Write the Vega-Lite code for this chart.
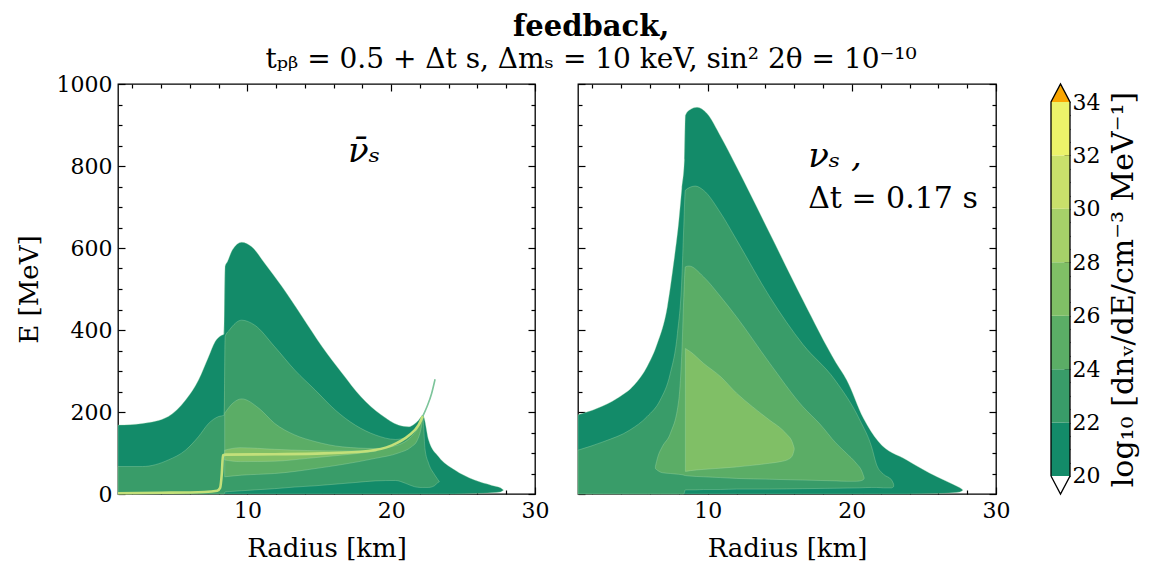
{
  "$schema": "https://vega.github.io/schema/vega-lite/v6.json",
  "padding": {"left": 15, "top": 13, "right": 5, "bottom": 5},
  "title": {
    "text": "feedback,",
    "subtitle": "tₚᵦ = 0.5 + Δt s,  Δmₛ = 10 keV, sin² 2θ = 10⁻¹⁰",
    "font": "DejaVu Serif",
    "fontSize": 29,
    "fontWeight": "bold",
    "color": "black",
    "subtitleFont": "DejaVu Serif",
    "subtitleFontSize": 28,
    "subtitleFontWeight": "normal",
    "subtitleColor": "black",
    "subtitlePadding": 4,
    "anchor": "middle",
    "dx": 14,
    "offset": -2
  },
  "datasets": {
    "left": [
      {"level": 20, "r": 1, "top": 168, "bot": 0}, {"level": 20, "r": 2.7, "top": 172, "bot": 0}, {"level": 20, "r": 4.5, "top": 189, "bot": 0},
      {"level": 20, "r": 5.7, "top": 229, "bot": 0}, {"level": 20, "r": 6.6, "top": 278, "bot": 0}, {"level": 20, "r": 7.3, "top": 335, "bot": 0},
      {"level": 20, "r": 7.76, "top": 372, "bot": 0}, {"level": 20, "r": 8.15, "top": 386, "bot": 0}, {"level": 20, "r": 8.38, "top": 390, "bot": 0},
      {"level": 20, "r": 8.45, "top": 556, "bot": 0}, {"level": 20, "r": 8.6, "top": 566, "bot": 0}, {"level": 20, "r": 8.95, "top": 595, "bot": 0},
      {"level": 20, "r": 9.6, "top": 614, "bot": 0}, {"level": 20, "r": 10.3, "top": 603, "bot": 0}, {"level": 20, "r": 11.2, "top": 563, "bot": 0},
      {"level": 20, "r": 12.4, "top": 506, "bot": 0}, {"level": 20, "r": 13.8, "top": 433, "bot": 0}, {"level": 20, "r": 15.2, "top": 359, "bot": 0},
      {"level": 20, "r": 16.6, "top": 294, "bot": 0}, {"level": 20, "r": 17.9, "top": 237, "bot": 0}, {"level": 20, "r": 19.3, "top": 193, "bot": 0},
      {"level": 20, "r": 20.5, "top": 168, "bot": 0}, {"level": 20, "r": 21.2, "top": 164, "bot": 0}, {"level": 20, "r": 21.9, "top": 180, "bot": 0},
      {"level": 20, "r": 22.2, "top": 192, "bot": 0}, {"level": 20, "r": 22.6, "top": 132, "bot": 0}, {"level": 20, "r": 23.3, "top": 91, "bot": 0},
      {"level": 20, "r": 24.4, "top": 59, "bot": 0}, {"level": 20, "r": 25.8, "top": 34, "bot": 1}, {"level": 20, "r": 27.0, "top": 21, "bot": 3},
      {"level": 20, "r": 27.6, "top": 15, "bot": 5}, {"level": 20, "r": 27.8, "top": 10, "bot": 9},

      {"level": 22, "r": 1, "top": 67, "bot": 0}, {"level": 22, "r": 2.7, "top": 67, "bot": 0}, {"level": 22, "r": 4.5, "top": 83, "bot": 0},
      {"level": 22, "r": 5.7, "top": 107, "bot": 0}, {"level": 22, "r": 6.6, "top": 140, "bot": 0}, {"level": 22, "r": 7.3, "top": 172, "bot": 0},
      {"level": 22, "r": 8.0, "top": 189, "bot": 0}, {"level": 22, "r": 8.38, "top": 192, "bot": 0}, {"level": 22, "r": 8.45, "top": 384, "bot": 5},
      {"level": 22, "r": 8.75, "top": 400, "bot": 6}, {"level": 22, "r": 9.6, "top": 424, "bot": 8}, {"level": 22, "r": 10.5, "top": 412, "bot": 10},
      {"level": 22, "r": 11.9, "top": 359, "bot": 13}, {"level": 22, "r": 13.3, "top": 302, "bot": 17}, {"level": 22, "r": 14.7, "top": 254, "bot": 20},
      {"level": 22, "r": 16.1, "top": 205, "bot": 24}, {"level": 22, "r": 17.5, "top": 168, "bot": 28}, {"level": 22, "r": 18.9, "top": 144, "bot": 32},
      {"level": 22, "r": 20.3, "top": 133, "bot": 33}, {"level": 22, "r": 21.0, "top": 138, "bot": 26}, {"level": 22, "r": 21.6, "top": 155, "bot": 18},
      {"level": 22, "r": 22.0, "top": 172, "bot": 16}, {"level": 22, "r": 22.2, "top": 188, "bot": 16}, {"level": 22, "r": 22.35, "top": 110, "bot": 16},
      {"level": 22, "r": 22.6, "top": 75, "bot": 16}, {"level": 22, "r": 23.0, "top": 48, "bot": 20}, {"level": 22, "r": 23.25, "top": 35, "bot": 28},
      {"level": 22, "r": 23.35, "top": 30, "bot": 30},

      {"level": 24, "r": 8.42, "top": 197, "bot": 42}, {"level": 24, "r": 9.0, "top": 222, "bot": 44}, {"level": 24, "r": 9.6, "top": 232, "bot": 46},
      {"level": 24, "r": 10.8, "top": 209, "bot": 48}, {"level": 24, "r": 11.9, "top": 172, "bot": 50}, {"level": 24, "r": 13.3, "top": 144, "bot": 55},
      {"level": 24, "r": 14.7, "top": 128, "bot": 62}, {"level": 24, "r": 16.6, "top": 115, "bot": 72}, {"level": 24, "r": 18.9, "top": 111, "bot": 87},
      {"level": 24, "r": 20.5, "top": 120, "bot": 100}, {"level": 24, "r": 21.4, "top": 140, "bot": 115}, {"level": 24, "r": 21.8, "top": 158, "bot": 130},
      {"level": 24, "r": 22.1, "top": 180, "bot": 164}, {"level": 24, "r": 22.2, "top": 188, "bot": 185},

      {"level": 26, "r": 8.42, "top": 107, "bot": 83}, {"level": 26, "r": 9.5, "top": 113, "bot": 79}, {"level": 26, "r": 11.9, "top": 109, "bot": 80},
      {"level": 26, "r": 14.2, "top": 106, "bot": 87}, {"level": 26, "r": 16.6, "top": 105, "bot": 95}, {"level": 26, "r": 18.4, "top": 105, "bot": 102},
      {"level": 26, "r": 19.0, "top": 106, "bot": 105}
    ],
    "ridge": [
      {"seg": "main", "r": 1, "E": 2}, {"seg": "main", "r": 4, "E": 3}, {"seg": "main", "r": 7, "E": 5}, {"seg": "main", "r": 7.9, "E": 8},
      {"seg": "main", "r": 8.1, "E": 15}, {"seg": "main", "r": 8.22, "E": 50}, {"seg": "main", "r": 8.3, "E": 94}, {"seg": "main", "r": 8.5, "E": 96},
      {"seg": "main", "r": 11.9, "E": 97}, {"seg": "main", "r": 15.3, "E": 99}, {"seg": "main", "r": 18.4, "E": 105}, {"seg": "main", "r": 20.0, "E": 118},
      {"seg": "main", "r": 21.2, "E": 142}, {"seg": "main", "r": 21.9, "E": 168}, {"seg": "main", "r": 22.2, "E": 190},
      {"seg": "spike", "r": 22.2, "E": 190}, {"seg": "spike", "r": 22.5, "E": 214}, {"seg": "spike", "r": 22.8, "E": 244}, {"seg": "spike", "r": 23.05, "E": 280}
    ],
    "right": [
      {"level": 20, "r": 1, "top": 193, "bot": 0}, {"level": 20, "r": 2.34, "top": 209, "bot": 0}, {"level": 20, "r": 3.7, "top": 233, "bot": 0},
      {"level": 20, "r": 4.9, "top": 266, "bot": 0}, {"level": 20, "r": 5.8, "top": 311, "bot": 0}, {"level": 20, "r": 6.5, "top": 367, "bot": 0},
      {"level": 20, "r": 7.2, "top": 457, "bot": 0}, {"level": 20, "r": 7.6, "top": 554, "bot": 0}, {"level": 20, "r": 8.0, "top": 668, "bot": 0},
      {"level": 20, "r": 8.2, "top": 745, "bot": 0}, {"level": 20, "r": 8.38, "top": 815, "bot": 0}, {"level": 20, "r": 8.45, "top": 924, "bot": 0},
      {"level": 20, "r": 8.8, "top": 938, "bot": 0}, {"level": 20, "r": 9.26, "top": 943, "bot": 0}, {"level": 20, "r": 9.95, "top": 928, "bot": 0},
      {"level": 20, "r": 10.9, "top": 872, "bot": 0}, {"level": 20, "r": 12.0, "top": 798, "bot": 0}, {"level": 20, "r": 14.3, "top": 636, "bot": 0},
      {"level": 20, "r": 16.6, "top": 473, "bot": 0}, {"level": 20, "r": 18.9, "top": 320, "bot": 0}, {"level": 20, "r": 19.64, "top": 278, "bot": 0},
      {"level": 20, "r": 20.8, "top": 185, "bot": 0}, {"level": 20, "r": 21.84, "top": 128, "bot": 0}, {"level": 20, "r": 23.8, "top": 83, "bot": 0},
      {"level": 20, "r": 25.9, "top": 42, "bot": 1}, {"level": 20, "r": 27.0, "top": 24, "bot": 3}, {"level": 20, "r": 27.5, "top": 15, "bot": 5},
      {"level": 20, "r": 27.7, "top": 10, "bot": 9},

      {"level": 22, "r": 1, "top": 107, "bot": 0}, {"level": 22, "r": 2.8, "top": 128, "bot": 0}, {"level": 22, "r": 4.6, "top": 156, "bot": 0},
      {"level": 22, "r": 5.8, "top": 189, "bot": 0}, {"level": 22, "r": 6.7, "top": 229, "bot": 0}, {"level": 22, "r": 7.4, "top": 294, "bot": 0},
      {"level": 22, "r": 7.9, "top": 392, "bot": 0}, {"level": 22, "r": 8.2, "top": 522, "bot": 0}, {"level": 22, "r": 8.33, "top": 644, "bot": 0},
      {"level": 22, "r": 8.45, "top": 741, "bot": 10}, {"level": 22, "r": 9.14, "top": 751, "bot": 10}, {"level": 22, "r": 9.7, "top": 741, "bot": 11},
      {"level": 22, "r": 10.9, "top": 685, "bot": 11}, {"level": 22, "r": 12.0, "top": 620, "bot": 12}, {"level": 22, "r": 14.3, "top": 481, "bot": 12},
      {"level": 22, "r": 16.6, "top": 365, "bot": 13}, {"level": 22, "r": 18.83, "top": 278, "bot": 14}, {"level": 22, "r": 20.56, "top": 180, "bot": 15},
      {"level": 22, "r": 21.37, "top": 115, "bot": 16}, {"level": 22, "r": 21.72, "top": 71, "bot": 16}, {"level": 22, "r": 22.2, "top": 48, "bot": 15},
      {"level": 22, "r": 22.76, "top": 34, "bot": 15}, {"level": 22, "r": 22.9, "top": 24, "bot": 18},

      {"level": 24, "r": 6.37, "top": 67, "bot": 62}, {"level": 24, "r": 6.54, "top": 91, "bot": 57}, {"level": 24, "r": 6.84, "top": 115, "bot": 52},
      {"level": 24, "r": 7.41, "top": 148, "bot": 50}, {"level": 24, "r": 7.99, "top": 229, "bot": 48}, {"level": 24, "r": 8.22, "top": 359, "bot": 47},
      {"level": 24, "r": 8.34, "top": 481, "bot": 46}, {"level": 24, "r": 8.45, "top": 554, "bot": 45}, {"level": 24, "r": 8.7, "top": 556, "bot": 44},
      {"level": 24, "r": 9.7, "top": 530, "bot": 42}, {"level": 24, "r": 10.9, "top": 481, "bot": 40}, {"level": 24, "r": 12.0, "top": 432, "bot": 38},
      {"level": 24, "r": 14.3, "top": 319, "bot": 36}, {"level": 24, "r": 16.6, "top": 213, "bot": 34}, {"level": 24, "r": 17.8, "top": 170, "bot": 33},
      {"level": 24, "r": 18.9, "top": 124, "bot": 32}, {"level": 24, "r": 19.6, "top": 100, "bot": 31}, {"level": 24, "r": 20.3, "top": 75, "bot": 31},
      {"level": 24, "r": 20.7, "top": 55, "bot": 33}, {"level": 24, "r": 20.85, "top": 40, "bot": 37},

      {"level": 26, "r": 8.45, "top": 355, "bot": 55}, {"level": 26, "r": 8.8, "top": 347, "bot": 57}, {"level": 26, "r": 9.7, "top": 319, "bot": 60},
      {"level": 26, "r": 10.9, "top": 286, "bot": 63}, {"level": 26, "r": 12.0, "top": 246, "bot": 66}, {"level": 26, "r": 13.1, "top": 213, "bot": 70},
      {"level": 26, "r": 14.3, "top": 180, "bot": 75}, {"level": 26, "r": 15.2, "top": 156, "bot": 80}, {"level": 26, "r": 15.5, "top": 145, "bot": 83},
      {"level": 26, "r": 15.85, "top": 128, "bot": 92}, {"level": 26, "r": 16.0, "top": 112, "bot": 108}
    ],
    "labels": [
      {"panel": "L", "label": "ν̄ₛ", "r": 17.0, "E": 810},
      {"panel": "R1", "label": "νₛ ,", "r": 16.97, "E": 797},
      {"panel": "R2", "label": "Δt = 0.17 s", "r": 16.97, "E": 697}
    ],
    "cbar": [
      {"level": 20, "lo": 20, "hi": 22}, {"level": 22, "lo": 22, "hi": 24}, {"level": 24, "lo": 24, "hi": 26},
      {"level": 26, "lo": 26, "hi": 28}, {"level": 28, "lo": 28, "hi": 30}, {"level": 30, "lo": 30, "hi": 32},
      {"level": 32, "lo": 32, "hi": 34}
    ],
    "cbarTri": [
      {"part": "over", "t": 0, "y1": 34, "y0": 34}, {"part": "over", "t": 0.5, "y1": 34.675, "y0": 34}, {"part": "over", "t": 1, "y1": 34, "y0": 34},
      {"part": "under", "t": 0, "y1": 20, "y0": 20}, {"part": "under", "t": 0.5, "y1": 20, "y0": 19.325}, {"part": "under", "t": 1, "y1": 20, "y0": 20}
    ],
    "cbarEdge": [
      {"i": 0, "t": 0, "v": 20}, {"i": 1, "t": 0, "v": 34}, {"i": 2, "t": 0.5, "v": 34.675}, {"i": 3, "t": 1, "v": 34},
      {"i": 4, "t": 1, "v": 20}, {"i": 5, "t": 0.5, "v": 19.325}, {"i": 6, "t": 0, "v": 20}
    ]
  },
  "config": {
    "font": "DejaVu Serif",
    "view": {"stroke": "black", "strokeWidth": 1.3},
    "axis": {
      "domain": false,
      "grid": false,
      "minExtent": 0,
      "tickColor": "black",
      "tickWidth": 1.2,
      "labelFont": "DejaVu Serif",
      "labelFontSize": 22,
      "labelColor": "black",
      "labelFlush": false,
      "labelOverlap": false,
      "titleFont": "DejaVu Serif",
      "titleFontSize": 26,
      "titleFontWeight": "normal",
      "titleColor": "black"
    }
  },
  "hconcat": [
    {
      "hconcat": [
        {
          "width": 417,
          "height": 410,
          "layer": [
            {
              "data": {"name": "left"},
              "mark": {"type": "area", "interpolate": "monotone", "opacity": 1, "stroke": "#a9dcb2", "strokeWidth": 0.6, "strokeOpacity": 0.55},
              "encoding": {
                "x": {"field": "r", "type": "quantitative", "scale": {"domain": [1, 30], "nice": false, "zero": false},
                      "axis": {"orient": "bottom", "values": [10, 20, 30], "tickSize": -7, "labelPadding": 13, "title": "Radius [km]", "titlePadding": 14}},
                "y": {"field": "top", "type": "quantitative", "stack": null, "scale": {"domain": [0, 1000], "nice": false, "zero": false},
                      "axis": {"orient": "left", "values": [0, 200, 400, 600, 800, 1000], "format": "d", "tickSize": -7, "labelPadding": 13, "title": "E [MeV]", "titlePadding": 14}},
                "y2": {"field": "bot"},
                "color": {"field": "level", "type": "ordinal",
                          "scale": {"domain": [20, 22, 24, 26, 28, 30, 32], "range": ["#138b69", "#399c69", "#5bad66", "#80bf66", "#a6d069", "#c9e06b", "#ecf36a"]},
                          "legend": null}
              }
            },
            {
              "data": {"name": "ridge"},
              "transform": [{"filter": "datum.seg == 'main'"}],
              "mark": {"type": "line", "interpolate": "monotone", "color": "#c3e07a", "strokeWidth": 2.6},
              "encoding": {
                "x": {"field": "r", "type": "quantitative", "scale": {"domain": [1, 30], "nice": false, "zero": false},
                      "axis": {"orient": "bottom", "values": [2, 4, 6, 8, 12, 14, 16, 18, 22, 24, 26, 28], "tickSize": -4, "labels": false, "title": null}},
                "y": {"field": "E", "type": "quantitative", "scale": {"domain": [0, 1000], "nice": false, "zero": false},
                      "axis": {"orient": "left", "values": [50, 100, 150, 250, 300, 350, 450, 500, 550, 650, 700, 750, 850, 900, 950], "tickSize": -4, "labels": false, "title": null}}
              }
            },
            {
              "data": {"name": "ridge"},
              "transform": [{"filter": "datum.seg == 'spike'"}],
              "mark": {"type": "line", "interpolate": "monotone", "color": "#7cc49a", "strokeWidth": 1.6},
              "encoding": {
                "x": {"field": "r", "type": "quantitative", "scale": {"domain": [1, 30], "nice": false, "zero": false},
                      "axis": {"orient": "top", "values": [10, 20, 30], "tickSize": -7, "labels": false, "title": null}},
                "y": {"field": "E", "type": "quantitative", "scale": {"domain": [0, 1000], "nice": false, "zero": false},
                      "axis": {"orient": "right", "values": [0, 200, 400, 600, 800, 1000], "tickSize": -7, "labels": false, "title": null}}
              }
            },
            {
              "data": {"name": "labels"},
              "transform": [{"filter": "datum.panel == 'L'"}],
              "mark": {"type": "text", "align": "left", "baseline": "alphabetic", "fontSize": 34, "fontStyle": "italic", "font": "DejaVu Serif", "color": "black"},
              "encoding": {
                "x": {"field": "r", "type": "quantitative", "scale": {"domain": [1, 30], "nice": false, "zero": false},
                      "axis": {"orient": "top", "values": [2, 4, 6, 8, 12, 14, 16, 18, 22, 24, 26, 28], "tickSize": -4, "labels": false, "title": null}},
                "y": {"field": "E", "type": "quantitative", "scale": {"domain": [0, 1000], "nice": false, "zero": false},
                      "axis": {"orient": "right", "values": [50, 100, 150, 250, 300, 350, 450, 500, 550, 650, 700, 750, 850, 900, 950], "tickSize": -4, "labels": false, "title": null}},
                "text": {"field": "label"}
              }
            }
          ],
          "resolve": {"axis": {"x": "independent", "y": "independent"}}
        },
        {
          "width": 418,
          "height": 410,
          "layer": [
            {
              "data": {"name": "right"},
              "mark": {"type": "area", "interpolate": "monotone", "opacity": 1, "stroke": "#a9dcb2", "strokeWidth": 0.6, "strokeOpacity": 0.55},
              "encoding": {
                "x": {"field": "r", "type": "quantitative", "scale": {"domain": [1, 30], "nice": false, "zero": false},
                      "axis": {"orient": "bottom", "values": [10, 20, 30], "tickSize": -7, "labelPadding": 13, "title": "Radius [km]", "titlePadding": 14}},
                "y": {"field": "top", "type": "quantitative", "stack": null, "scale": {"domain": [0, 1000], "nice": false, "zero": false},
                      "axis": {"orient": "left", "values": [0, 200, 400, 600, 800, 1000], "tickSize": -7, "labels": false, "title": null}},
                "y2": {"field": "bot"},
                "color": {"field": "level", "type": "ordinal",
                          "scale": {"domain": [20, 22, 24, 26, 28, 30, 32], "range": ["#138b69", "#399c69", "#5bad66", "#80bf66", "#a6d069", "#c9e06b", "#ecf36a"]},
                          "legend": null}
              }
            },
            {
              "data": {"name": "labels"},
              "transform": [{"filter": "datum.panel == 'R1'"}],
              "mark": {"type": "text", "align": "left", "baseline": "alphabetic", "fontSize": 34, "fontStyle": "italic", "font": "DejaVu Serif", "color": "black"},
              "encoding": {
                "x": {"field": "r", "type": "quantitative", "scale": {"domain": [1, 30], "nice": false, "zero": false},
                      "axis": {"orient": "bottom", "values": [2, 4, 6, 8, 12, 14, 16, 18, 22, 24, 26, 28], "tickSize": -4, "labels": false, "title": null}},
                "y": {"field": "E", "type": "quantitative", "scale": {"domain": [0, 1000], "nice": false, "zero": false},
                      "axis": {"orient": "left", "values": [50, 100, 150, 250, 300, 350, 450, 500, 550, 650, 700, 750, 850, 900, 950], "tickSize": -4, "labels": false, "title": null}},
                "text": {"field": "label"}
              }
            },
            {
              "data": {"name": "labels"},
              "transform": [{"filter": "datum.panel == 'R2'"}],
              "mark": {"type": "text", "align": "left", "baseline": "alphabetic", "fontSize": 30, "font": "DejaVu Serif", "color": "black"},
              "encoding": {
                "x": {"field": "r", "type": "quantitative", "scale": {"domain": [1, 30], "nice": false, "zero": false},
                      "axis": {"orient": "top", "values": [10, 20, 30], "tickSize": -7, "labels": false, "title": null}},
                "y": {"field": "E", "type": "quantitative", "scale": {"domain": [0, 1000], "nice": false, "zero": false},
                      "axis": {"orient": "right", "values": [0, 200, 400, 600, 800, 1000], "tickSize": -7, "labels": false, "title": null}},
                "text": {"field": "label"}
              }
            },
            {
              "data": {"name": "labels"},
              "transform": [{"filter": "datum.panel == 'R2'"}],
              "mark": {"type": "point", "opacity": 0},
              "encoding": {
                "x": {"field": "r", "type": "quantitative", "scale": {"domain": [1, 30], "nice": false, "zero": false},
                      "axis": {"orient": "top", "values": [2, 4, 6, 8, 12, 14, 16, 18, 22, 24, 26, 28], "tickSize": -4, "labels": false, "title": null}},
                "y": {"field": "E", "type": "quantitative", "scale": {"domain": [0, 1000], "nice": false, "zero": false},
                      "axis": {"orient": "right", "values": [50, 100, 150, 250, 300, 350, 450, 500, 550, 650, 700, 750, 850, 900, 950], "tickSize": -4, "labels": false, "title": null}}
              }
            }
          ],
          "resolve": {"axis": {"x": "independent", "y": "independent"}}
        }
      ],
      "spacing": 26
    },
    {
      "width": 19,
      "height": 410,
      "view": {"stroke": null},
      "layer": [
        {
          "data": {"name": "cbar"},
          "mark": {"type": "rect"},
          "encoding": {
            "y": {"field": "lo", "type": "quantitative", "scale": {"domain": [19.325, 34.675], "nice": false, "zero": false},
                  "axis": {"orient": "right", "values": [20, 22, 24, 26, 28, 30, 32, 34], "tickSize": -6, "labelPadding": 8,
                           "title": "log₁₀ [dnᵥ/dE/cm⁻³ MeV⁻¹]", "titleAngle": 270, "titleBaseline": "top", "titleFontSize": 30, "titlePadding": 9}},
            "y2": {"field": "hi"},
            "color": {"field": "level", "type": "ordinal",
                      "scale": {"domain": [20, 22, 24, 26, 28, 30, 32], "range": ["#138b69", "#399c69", "#5bad66", "#80bf66", "#a6d069", "#c9e06b", "#ecf36a"]},
                      "legend": null}
          }
        },
        {
          "data": {"name": "cbarTri"},
          "transform": [{"filter": "datum.part == 'over'"}],
          "mark": {"type": "area", "color": "#f9a602", "opacity": 1},
          "encoding": {
            "x": {"field": "t", "type": "quantitative", "scale": {"domain": [0, 1], "nice": false}, "axis": null},
            "y": {"field": "y1", "type": "quantitative", "stack": null, "scale": {"domain": [19.325, 34.675], "nice": false, "zero": false},
                  "axis": {"orient": "right", "values": [20.5, 21, 21.5, 22.5, 23, 23.5, 24.5, 25, 25.5, 26.5, 27, 27.5, 28.5, 29, 29.5, 30.5, 31, 31.5, 32.5, 33, 33.5],
                           "tickSize": -3, "labels": false, "title": null}},
            "y2": {"field": "y0"}
          }
        },
        {
          "data": {"name": "cbarTri"},
          "transform": [{"filter": "datum.part == 'under'"}],
          "mark": {"type": "area", "color": "#ffffff", "opacity": 1},
          "encoding": {
            "x": {"field": "t", "type": "quantitative", "scale": {"domain": [0, 1], "nice": false}, "axis": null},
            "y": {"field": "y1", "type": "quantitative", "stack": null, "scale": {"domain": [19.325, 34.675], "nice": false, "zero": false}, "axis": null},
            "y2": {"field": "y0"}
          }
        },
        {
          "data": {"name": "cbarEdge"},
          "mark": {"type": "line", "color": "black", "strokeWidth": 1.3},
          "encoding": {
            "x": {"field": "t", "type": "quantitative", "scale": {"domain": [0, 1], "nice": false}, "axis": null},
            "y": {"field": "v", "type": "quantitative", "scale": {"domain": [19.325, 34.675], "nice": false, "zero": false}, "axis": null},
            "order": {"field": "i", "type": "quantitative"}
          }
        }
      ],
      "resolve": {"axis": {"y": "independent"}}
    }
  ],
  "spacing": 37
}
